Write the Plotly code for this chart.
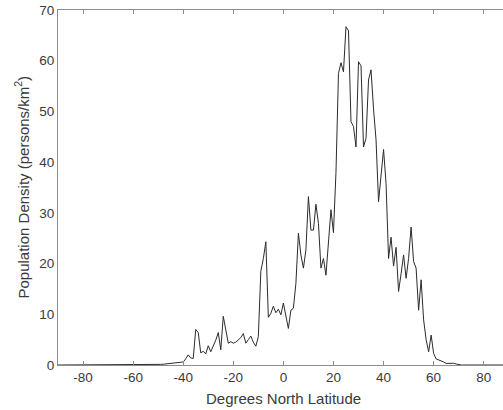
import plotly.graph_objects as go

latitude = list(range(-90, 91))

density = [
    0, 0, 0, 0, 0, 0, 0, 0, 0, 0,            # -90 .. -81
    0, 0, 0, 0, 0, 0, 0, 0, 0, 0,            # -80 .. -71
    0, 0, 0, 0, 0, 0, 0, 0, 0, 0,            # -70 .. -61
    0, 0, 0, 0,                              # -60 .. -57
    0.02, 0.03, 0.04, 0.05, 0.06, 0.08, 0.1, 0.12, 0.15, 0.2,   # -56 .. -47
    0.22, 0.3, 0.3, 0.35, 0.4, 0.5, 0.6,                         # -46 .. -40
    1.2, 2.0, 1.4, 1.3, 7.0, 6.4, 2.4, 2.7, 2.2, 3.8,            # -39 .. -30
    2.6, 3.6, 4.9, 6.4, 3.0, 9.6, 7.0, 4.3, 4.6, 4.3,            # -29 .. -20
    4.5, 4.9, 5.4, 6.2, 4.3, 5.0, 5.7, 4.5, 3.7, 5.6,            # -19 .. -10
    18.5, 21.0, 24.3, 9.4, 10.2, 11.6, 10.3, 11.0, 9.9, 12.2,    # -9 .. 0
    9.5, 7.2, 10.8, 11.2, 16.1, 26.0, 21.7, 19.1, 22.7, 33.2,    # 1 .. 10
    26.6, 26.6, 31.7, 27.9, 19.1, 21.0, 17.7, 23.7, 30.6, 26.1,  # 11 .. 20
    38.0, 57.5, 59.6, 57.8, 66.7, 65.9, 48.0, 47.0, 43.0, 59.8,  # 21 .. 30
    59.0, 43.0, 44.7, 56.2, 58.2, 50.5, 44.4, 32.2, 37.5, 42.5,  # 31 .. 40
    35.8, 21.0, 25.2, 19.5, 23.2, 14.5, 18.0, 21.7, 17.1, 21.0,  # 41 .. 50
    27.2, 20.4, 19.1, 10.8, 16.8, 8.9, 5.0, 2.6, 5.9, 2.3,       # 51 .. 60
    1.2, 1.0, 0.9, 0.6, 0.3, 0.3, 0.3, 0.35, 0.2, 0.05,          # 61 .. 70
    0, 0, 0, 0, 0, 0, 0, 0, 0, 0,            # 71 .. 80
    0, 0, 0, 0, 0, 0, 0, 0, 0, 0,            # 81 .. 90
]

x_ticks = [-80, -60, -40, -20, 0, 20, 40, 60, 80]
y_ticks = [0, 10, 20, 30, 40, 50, 60, 70]

x_title = "Degrees North Latitude"
y_title = "Population Density (persons/km<sup>2</sup>)"

FONT = "Liberation Sans, Arial, sans-serif"
AXIS_COLOR = "#8c8c8c"
TEXT_COLOR = "#3a3a3a"

fig = go.Figure()
fig.add_trace(go.Scatter(
    x=latitude, y=density, mode="lines",
    line=dict(color="#2b2b2b", width=1),
    hoverinfo="skip", showlegend=False,
))

fig.update_layout(
    width=503, height=410,
    margin=dict(l=58, r=0, t=10, b=45),
    paper_bgcolor="white", plot_bgcolor="white",
    font=dict(family=FONT, size=13.5, color=TEXT_COLOR),
    xaxis=dict(
        range=[-90, 87.7], tickvals=x_ticks,
        ticktext=[str(v) for v in x_ticks],
        showgrid=False, zeroline=False, automargin=False,
        showline=True, linecolor=AXIS_COLOR, linewidth=1,
        mirror="ticks", ticks="inside", ticklen=4, tickcolor=AXIS_COLOR,
        tickfont=dict(family=FONT, size=13.5, color=TEXT_COLOR),
    ),
    yaxis=dict(
        range=[0, 70], tickvals=y_ticks,
        ticktext=[str(v) for v in y_ticks],
        showgrid=False, zeroline=False, automargin=False,
        showline=True, linecolor=AXIS_COLOR, linewidth=1,
        ticks="", mirror=False,
        tickfont=dict(family=FONT, size=13.5, color=TEXT_COLOR),
    ),
    annotations=[
        dict(text=x_title, xref="x", yref="paper", x=0, y=0,
             yshift=-33, xanchor="center", yanchor="middle", showarrow=False,
             font=dict(family=FONT, size=15, color=TEXT_COLOR)),
        dict(text=y_title, xref="paper", yref="paper", x=0, y=0.5,
             xshift=-36, xanchor="center", yanchor="middle", showarrow=False,
             textangle=-90,
             font=dict(family=FONT, size=15, color=TEXT_COLOR)),
    ],
)

fig.write_html(
    "out.html",
    config={"displayModeBar": False},
    post_script="document.body.style.margin='0';document.body.style.overflow='hidden';",
)
